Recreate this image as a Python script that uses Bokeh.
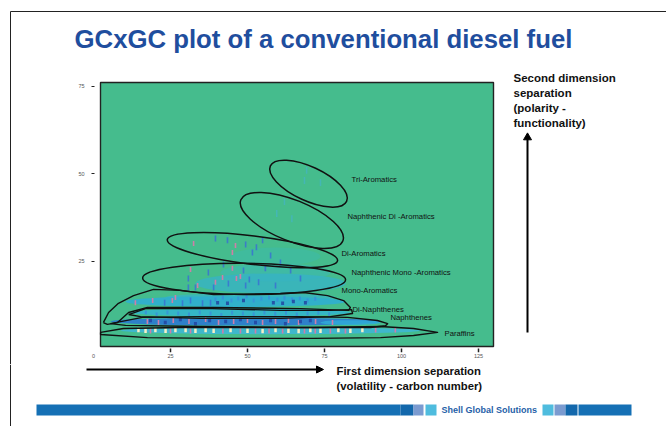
from bokeh.plotting import figure
from bokeh.layouts import column, row
from bokeh.models import Range1d, Label, Arrow, NormalHead, FixedTicker
from bokeh.core.properties import value
from bokeh.embed import file_html
from bokeh.resources import INLINE

# ---- axis ticks
x_ticks = [25, 50, 75, 100, 125]
x_labels = [0, 25, 50, 75, 100, 125]
y_ticks = [25, 50, 75]

# ---- elliptical compound-class contours: centre, width, height, angle (deg)
ell_x = [69.8, 64.4, 51.6, 48.9]
ell_y = [47.1, 36.6, 28.1, 19.9]
ell_w = [27.3, 35.7, 55.7, 65.9]
ell_h = [9.7, 11.7, 8.1, 8.9]
ell_a = [-25, -22, -7, -0.5]

# ---- lens / teardrop contours
mono_x = [3.2, 4.9, 8.1, 13, 19.5, 28.2, 39, 60.7, 68.2, 76, 81.2, 83.4, 82.8, 67.2, 39, 17.5, 11.4, 7.8, 4.5, 3.2]
mono_y = [7.4, 10.3, 12.9, 15.1, 16.9, 16.6, 15.4, 15.7, 16, 15.1, 13.7, 11.7, 10.9, 11.4, 11.7, 11.7, 10.3, 7.4, 6.9, 7.4]
dinaph_x = [11.4, 16.9, 38.6, 60.7, 76.9, 83.8, 84.1, 76.9, 60.7, 34.7, 15.3, 11.4]
dinaph_y = [9.7, 11.4, 11.4, 10.9, 10.9, 11.1, 10, 9.1, 8.6, 8.6, 9.1, 9.7]
naph_x = [5.5, 15.9, 34.7, 67.2, 82.5, 92.2, 95.5, 94.8, 89.9, 67.2, 34.7, 10.4, 5.5]
naph_y = [7.1, 8.9, 9.1, 9.1, 8.9, 8, 7.1, 6.5, 6, 6, 6.3, 6.6, 7.1]
par_x = [2.3, 9.7, 28.2, 71.4, 93.2, 103.9, 111.7, 103.9, 93.2, 71.4, 39, 17.5, 2.3, 2.3]
par_y = [4.6, 5.7, 6, 6, 6.3, 5.7, 4.6, 3.7, 3.1, 2.9, 2.9, 3.1, 4, 4.6]

# ---- signal haze
haze_x = [59.1, 59.1, 57.5, 51, 46.1, 47.7, 57.5, 49.4, 83.4]
haze_y = [26.3, 21.7, 18.6, 14.6, 13.4, 10.3, 5.1, 7.7, 7.4]
haze_w = [29.2, 35.7, 48.7, 55.2, 71.4, 71.4, 97.4, 87.7, 19.5]
haze_h = [5.1, 5.1, 5.7, 2.3, 3.1, 2.3, 2.0, 2.3, 1.4]
haze_c = ["#3EBAA8", "#3CB8B0", "#37B3C4", "#38B4C0", "#2FAED0", "#35B5C8", "#3FB6D0", "#2D7CCC", "#2FAAD8"]
haze_al = [0.6, 0.65, 0.8, 0.8, 0.9, 0.95, 0.95, 0.95, 0.85]

# ---- peaks
faint_x = [59.5, 64.4, 62, 68.5, 73.7, 69.2]
faint_y = [38.6, 37.1, 42, 48, 47.4, 50.9]
pink_x = [32.5, 46.1, 45.1, 31.5, 41.9, 46.4, 47.7, 45.1, 33.8, 39.6, 13.6, 19.2, 25.6, 26.6,
          17.5, 21.1, 25.9, 31, 36.4, 40.6, 45.5, 50, 54.9, 59.1, 63.3, 66.6, 72.1, 77.6,
          18.5, 25, 31.5, 42, 47.7, 52.6, 57, 61.4, 68.5, 72, 76.9, 81.8, 91.6, 98]
pink_y = [30, 29.4, 27.4, 22.6, 20.3, 20, 20.6, 22.9, 18, 18.9, 13.1, 13.7, 13.7, 14.6,
          7.7, 7.4, 8.0, 7.7, 8.3, 7.4, 7.7, 8.0, 7.4, 7.7, 8.0, 7.4, 7.7, 7.4,
          5, 5, 5, 5, 5, 5, 5, 5, 5, 5, 5, 5, 5.3, 5.3]
blue_x = [49.4, 51.6, 52.9, 39.6, 43.5, 37.3, 42.2, 48.7, 50.6, 30.8, 39, 43.8, 49.4, 53.6, 23.1, 28.9,
          31.5, 33.1, 30.8, 35.4, 38, 54.9, 57.5, 60.7, 64, 67.2, 55.8, 59.1]
blue_y = [29.7, 27.4, 28.9, 31.4, 30.9, 21.7, 24, 22.3, 19.7, 20, 17.4, 18.6, 18, 18.9, 13.1, 12.9,
          13.7, 17.4, 17.4, 12.9, 13.1, 30.9, 26.6, 24.6, 22.3, 20, 22.9, 18]
navy_x = [40.3, 43.5, 48.7, 58.4, 61.4, 64.9, 68.8,
          18.5, 23.3, 28.2, 33.1, 37.7, 42.9, 47.7, 52.6, 57.5, 62.3, 67.2, 70.4]
navy_y = [13.1, 12.9, 13.7, 13.1, 12.9, 13.4, 13.1,
          8, 7.4, 8.3, 7.1, 8, 7.7, 8.3, 7.4, 8, 7.1, 7.7, 8]
pale_x = [14.6, 16.9, 20.1, 23.4, 26.6, 29.9, 33.1, 36.4, 39, 44.5, 50, 54.9, 59.1, 63.3, 66.6, 70.4, 73.7, 79.5, 83.4, 87.3]
pale_y = [5.3, 5.1, 5.3, 5.1, 5.3, 5.3, 5.1, 5.3, 5.1, 5.3, 5.1, 5.0, 5.3, 5.1, 5.0, 5.3, 5.1, 5.3, 5.1, 5.3]
streak_x = [39.6, 42, 44.8, 47, 49.7, 52, 54.5, 57, 59.7, 62, 64.5, 67, 69.5, 72,
            17, 20.5, 24, 27.5, 31, 34.5, 38, 41.5, 45, 48.5, 52, 55.5, 59, 62.5, 66, 69.5, 73, 76.5]
streak_y = [14.0, 14.6, 13.7, 14.3, 14.9, 13.7, 14.3, 14.6, 13.9, 14.5, 14, 14.3, 13.7, 14.2,
            10.3, 9.7, 10.3, 10, 9.7, 10.3, 10, 9.6, 10.2, 10, 9.8, 10.3, 9.9, 10.2, 9.7, 10, 10.2, 9.8]

# ---- texts
class_names = ["Tri-Aromatics", "Naphthenic Di -Aromatics", "Di-Aromatics", "Naphthenic Mono -Aromatics",
               "Mono-Aromatics", "Di-Naphthenes", "Naphthenes", "Paraffins"]
class_px = [351, 347, 341, 351, 341, 352, 390, 444]
class_py = [179, 216, 253, 272, 290, 309, 317, 333]
second_lines = ["Second dimension", "separation", "(polarity  -", "functionality)"]
first_lines = ["First dimension separation", "(volatility  - carbon number)"]

F = "Liberation Sans"
L, R, T, B = 100, 493, 82, 346              # green plot area on the page
FL, FR, FT, FB = 89, 495, 70, 352           # bokeh frame on the page
MX0, MX1, MY0, MY1 = 62, 500, 58, 364       # main figure on the page


def dx(px):
    return (px - 93) / 3.08


def dy(py):
    return (348 - py) / 3.5


def side(x0, x1, y0, y1, mt=0, mb=0):
    f = figure(width=x1 - x0, height=y1 - y0 + mt + mb, output_backend="svg", toolbar_location=None,
               x_range=Range1d(x0, x1), y_range=Range1d(y1, y0), min_border=0,
               min_border_top=mt, min_border_bottom=mb,
               x_axis_type=None, y_axis_type=None, outline_line_color=None)
    f.grid.visible = False
    return f


def ptext(f, x, y, s, size, color="#111111", style="normal"):
    f.text([x], [y], text=[s], text_font=value(F), text_font_size=f"{size}px", text_color=color,
           text_font_style=style, text_baseline="middle", text_align="left")


p = figure(width=MX1 - MX0, height=MY1 - MY0, output_backend="svg", toolbar_location=None,
           x_range=Range1d(dx(FL), dx(FR)), y_range=Range1d(dy(FB), dy(FT)),
           min_border_left=FL - MX0, min_border_right=MX1 - FR,
           min_border_top=FT - MY0, min_border_bottom=MY1 - FB,
           background_fill_color=None, border_fill_color="white", outline_line_color=None)
p.grid.visible = False

ax_b, ax_l = p.xaxis[0], p.yaxis[0]
ax_b.ticker = FixedTicker(ticks=x_labels)
ax_b.major_tick_line_color = None
ax_b.major_tick_in = 0
ax_b.major_tick_out = 0
ax_b.major_label_standoff = 1
ax_l.ticker = FixedTicker(ticks=y_ticks)
ax_l.major_tick_in = 5
ax_l.major_tick_out = -2
ax_l.major_label_standoff = 5
ax_l.major_tick_line_color = "#222222"
ax_l.major_tick_line_width = 1.2
for ax in (ax_b, ax_l):
    ax.axis_line_color = None
    ax.minor_tick_line_color = None
    ax.major_label_text_font = F
    ax.major_label_text_font_size = "5.5px"
    ax.major_label_text_color = "#555555"

p.quad(left=[dx(L)], right=[dx(R)], top=[dy(T)], bottom=[dy(B)],
       fill_color="#45BC8D", line_color="#222222", line_width=1.4)
p.segment(x_ticks, [dy(348)] * 5, x_ticks, [dy(352)] * 5, line_color="#222222", line_width=1.5)
p.ellipse(haze_x, haze_y, width=haze_w, height=haze_h, fill_color=haze_c, fill_alpha=haze_al, line_color=None)


def peaks(x, y, c, w, h, alpha=1.0):
    p.rect(x, y, width=w, height=h, width_units="screen", height_units="screen",
           fill_color=c, fill_alpha=alpha, line_color=None)


peaks(faint_x, faint_y, "#45B4C8", 1.5, 7, 0.7)
peaks(streak_x, streak_y, "#3A8FD8", 2, 4, 0.8)
peaks(blue_x, blue_y, "#3A72D2", 1.6, 6, 0.85)
peaks(pink_x, pink_y, "#CE7EA8", 1.6, 5)
peaks(navy_x, navy_y, "#22409F", 3, 3.5, 0.8)
peaks(pale_x, pale_y, "#F6F0C6", 2.5, 4.5)

p.ellipse(ell_x, ell_y, width=ell_w, height=ell_h, angle=ell_a, angle_units="deg",
          fill_color=None, line_color="#111111", line_width=1.5)
for xs, ys in ((mono_x, mono_y), (dinaph_x, dinaph_y), (naph_x, naph_y), (par_x, par_y)):
    p.line(xs, ys, line_color="#111111", line_width=1.4, line_join="round")

for s, a, b in zip(class_names, class_px, class_py):
    p.add_layout(Label(x=dx(a), y=dy(b), text=s, text_font=F, text_font_size="7.7px", text_color="#111111",
                       text_baseline="middle", text_align="left"))

# title strip
top = side(0, 666, 0, MY0)
top.segment([10, 10], [11, 11], [666, 10], [11, MY0], line_color="#222222", line_width=1)
ptext(top, 74, 38, "GCxGC plot of a conventional diesel fuel", 25.75, "#1F4E9E", "bold")

# left strip, transparent: the page rule behind it is the row's background
left = side(0, MX0, FT, FB, FT - MY0, MY1 - FB)
left.background_fill_color = None
left.border_fill_color = None

# right strip
right = side(MX1, 666, FT, FB, FT - MY0, MY1 - FB)
for s, b in zip(second_lines, [77, 92, 107, 122]):
    ptext(right, 513, b, s, 11.5, "#111111", "bold")
right.segment([527], [332], [527], [138], line_color="black", line_width=2)
right.scatter([527], [137], marker="triangle", size=8, fill_color="black", line_color="black")

# bottom strip
bottom = side(0, 666, MY1, 426)
bottom.segment([10], [MY1], [10], [426], line_color="#222222", line_width=1)
for s, b in zip(first_lines, [370, 385]):
    ptext(bottom, 336, b, s, 11.3, "#111111", "bold")
bottom.add_layout(Arrow(end=NormalHead(size=7, fill_color="black", line_color="black"),
                        x_start=86, y_start=369, x_end=323, y_end=369, line_color="black", line_width=2))
bar_l = [36, 400, 413, 425, 542, 554, 565, 578]
bar_r = [400, 413, 423, 436, 553, 565, 577, 631]
bar_c = ["#1570B5", "#1368AC", "#7B9BD0", "#4FBCDE", "#4FBCDE", "#7B9BD0", "#1368AC", "#1570B5"]
bottom.quad(left=bar_l, right=bar_r, top=[404] * 8, bottom=[415] * 8, fill_color=bar_c, line_color=None)
ptext(bottom, 441, 409, "Shell Global Solutions", 9, "#1F5FA8", "bold")

middle = row(left, p, right, styles={"background": "linear-gradient(#222222,#222222) 9.5px 0 / 1px 100% no-repeat"})
page = column(top, middle, bottom)
open("out.html", "w").write(file_html(page, INLINE))
